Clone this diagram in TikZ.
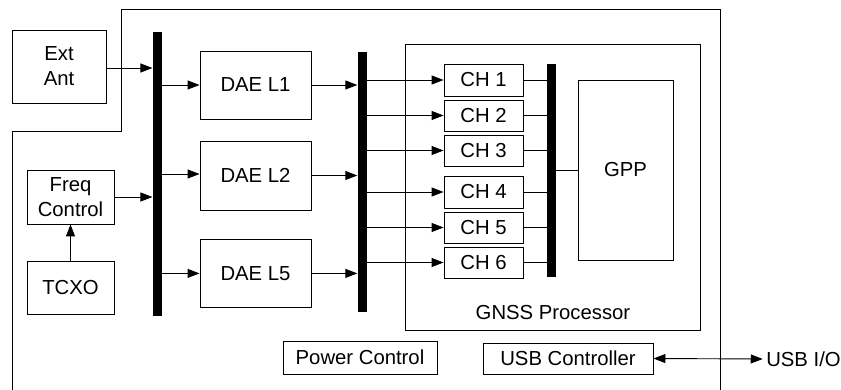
\documentclass[tikz,border=0pt]{standalone}
\usepackage{fontspec}
\setmainfont{Liberation Sans}
\usetikzlibrary{arrows.meta}
\begin{document}
\begin{tikzpicture}[x=1pt,y=-1pt,
  every node/.style={font=\fontsize{20.3}{25}\selectfont},
  blk/.style={draw=black,line width=0.9pt,inner sep=0pt,align=center},
  bar/.style={fill=black,draw=none,inner sep=0pt},
  conn/.style={line width=0.9pt},
  arr/.style={line width=0.9pt,-{Triangle[length=12pt,width=9pt]}},
  darr/.style={line width=0.9pt,{Triangle[length=12pt,width=9pt]}-{Triangle[length=12pt,width=9pt]}}]
\useasboundingbox (0,0) rectangle (841,390);
% outer boundary
\draw[line width=0.9pt] (12,390) -- (12,131) -- (121,131) -- (121,9) -- (720,9) -- (720,390);
% left blocks
\node[blk,minimum width=94pt,minimum height=73pt] (ext) at (59,66.5) {Ext\\Ant};
\node[blk,minimum width=87pt,minimum height=54pt] (freq) at (70.5,197) {Freq\\Control};
\node[blk,minimum width=87pt,minimum height=53pt] (tcxo) at (70.5,287.5) {TCXO};
% bars
\node[bar,minimum width=9.3pt,minimum height=284pt] (bar1) at (157.3,174) {};
\node[bar,minimum width=9pt,minimum height=260pt] (bar2) at (362,182) {};
\node[bar,minimum width=9pt,minimum height=213pt] (bar3) at (551.5,170.5) {};
% DAE
\node[blk,minimum width=111pt,minimum height=68pt] (dae1) at (255.5,85) {DAE L1};
\node[blk,minimum width=111pt,minimum height=69pt] (dae2) at (255.5,175.5) {DAE L2};
\node[blk,minimum width=111pt,minimum height=68.5pt] (dae5) at (255.5,273.4) {DAE L5};
% GNSS processor
\node[blk,minimum width=295pt,minimum height=286pt] (gnss) at (552.5,187.9) {};
\node (gnsslbl) at (553,312.5) {GNSS Processor};
\node[blk,minimum width=79pt,minimum height=32pt] (ch1) at (483.5,80) {CH 1};
\node[blk,minimum width=79pt,minimum height=31pt] (ch2) at (483.5,115.5) {CH 2};
\node[blk,minimum width=79pt,minimum height=31pt] (ch3) at (483.5,150.5) {CH 3};
\node[blk,minimum width=79pt,minimum height=32pt] (ch4) at (483.5,192) {CH 4};
\node[blk,minimum width=79pt,minimum height=31pt] (ch5) at (483.5,227.5) {CH 5};
\node[blk,minimum width=79pt,minimum height=31pt] (ch6) at (483.5,262.5) {CH 6};
\node[blk,minimum width=95pt,minimum height=180pt] (gpp) at (625.5,170) {GPP};
% bottom
\node[blk,minimum width=154pt,minimum height=33pt] (power) at (360,357.5) {Power Control};
\node[blk,minimum width=170pt,minimum height=31pt] (usb) at (568,358.5) {USB Controller};
\node (usbio) at (803.5,359) {USB I/O};
% connectors
\draw[arr] (ext.east |- 0,68) -- (bar1.west |- 0,68);
\draw[arr] (freq.east) -- (freq.east -| bar1.west);
\draw[arr] (tcxo.north) -- (freq.south);
\draw[arr] (dae1.west -| bar1.east) -- (dae1.west);
\draw[arr] (bar1.east |- 0,174) -- (dae2.west |- 0,174);
\draw[arr] (dae5.west -| bar1.east) -- (dae5.west);
\draw[arr] (dae1.east) -- (dae1.east -| bar2.west);
\draw[arr] (dae2.east) -- (dae2.east -| bar2.west);
\draw[arr] (dae5.east) -- (dae5.east -| bar2.west);
\foreach \c in {ch1,ch2,ch3,ch4,ch5,ch6}{
  \draw[arr] (\c.west -| bar2.east) -- (\c.west);
  \draw[conn] (\c.east) -- (\c.east -| bar3.west);
}
\draw[conn] (gpp.west -| bar3.east) -- (gpp.west);
\draw[darr] (usb.east) -- (usbio.west);
\end{tikzpicture}
\end{document}
